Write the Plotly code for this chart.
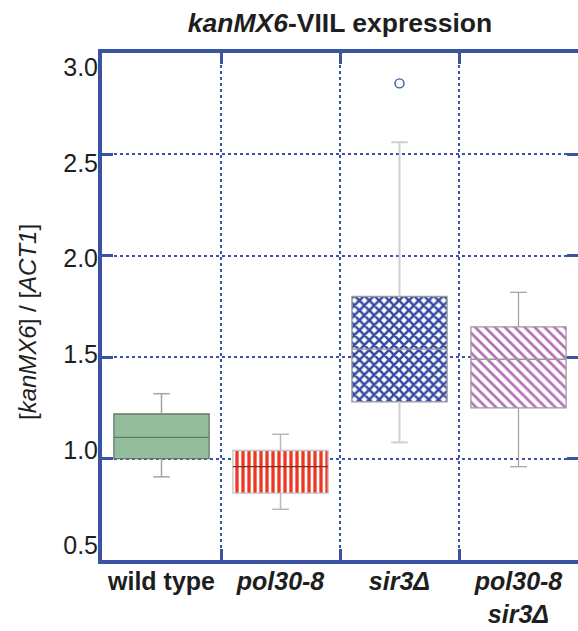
import plotly.graph_objects as go

# ---- data ----
groups = ["wild type", "pol30-8", "sir3Δ", "pol30-8 sir3Δ"]
group_labels = ["<b>wild type</b>", "<b><i>pol30-8</i></b>", "<b><i>sir3Δ</i></b>",
                "<b><i>pol30-8</i></b><br><b><i>sir3Δ</i></b>"]
q1 = [1.00, 0.83, 1.28, 1.25]
median = [1.105, 0.96, 1.54, 1.49]
q3 = [1.22, 1.04, 1.80, 1.65]
whisker_low = [0.91, 0.75, 1.08, 0.96]
whisker_high = [1.32, 1.12, 2.56, 1.82]
outlier_group = [2]
outlier_value = [2.85]
y_ticks = [0.5, 1.0, 1.5, 2.0, 2.5, 3.0]
y_tick_text = ["0.5", "1.0", "1.5", "2.0", "2.5", "3.0"]

# ---- styles ----
AX = "#3b53a3"
FONT = "Liberation Sans, Arial, sans-serif"
box_fill = ["#93bd9b", "white", "white", "white"]
pat_shape = ["", "|", "x", "\\"]
pat_fg = ["#93bd9b", "#ef3622", "#3449a2", "#b370b5"]
pat_size = [8, 6, 7, 7]
pat_solid = [0.3, 0.55, 0.6, 0.38]
box_line = ["#66776a", "#c4c4c4", "#9a9a9a", "#9a9a9a"]
median_color = ["#66776a", "#7a3028", "#9a9a9a", "#9a9a9a"]
whisker_color = ["#a3a3a3", "#b8b8b8", "#cfcfcf", "#9f9f9f"]
whisker_width = [1.5, 1.5, 2, 1.2]
BOX_W = 0.8
CAP_H = 0.07

fig = go.Figure()
centers = [i + 0.5 for i in range(len(groups))]

for i, c in enumerate(centers):
    fig.add_trace(go.Bar(
        x=[c], base=[q1[i]], y=[q3[i] - q1[i]], width=BOX_W,
        marker=dict(color=box_fill[i],
                    line=dict(color=box_line[i], width=1.3),
                    pattern=dict(shape=pat_shape[i], fgcolor=pat_fg[i], bgcolor=box_fill[i],
                                 size=pat_size[i], solidity=pat_solid[i], fillmode="replace")),
        showlegend=False, hoverinfo="skip"))

for i, c in enumerate(centers):
    wx = [c, c, None, c, c, None, c - CAP_H, c + CAP_H, None, c - CAP_H, c + CAP_H]
    wy = [q3[i], whisker_high[i], None, q1[i], whisker_low[i], None,
          whisker_high[i], whisker_high[i], None, whisker_low[i], whisker_low[i]]
    fig.add_trace(go.Scatter(x=wx, y=wy, mode="lines",
                             line=dict(color=whisker_color[i], width=whisker_width[i]),
                             showlegend=False, hoverinfo="skip"))
    fig.add_trace(go.Scatter(x=[c - BOX_W / 2, c + BOX_W / 2], y=[median[i], median[i]],
                             mode="lines", line=dict(color=median_color[i], width=1.3),
                             showlegend=False, hoverinfo="skip"))

fig.add_trace(go.Scatter(x=[centers[g] for g in outlier_group], y=outlier_value, mode="markers",
                         marker=dict(symbol="circle-open", size=9, color="#3a55b0",
                                     line=dict(width=1.4)),
                         showlegend=False, hoverinfo="skip"))

# dummy trace for label axes
fig.add_trace(go.Scatter(x=[None], y=[None], xaxis="x2", yaxis="y2",
                         showlegend=False, hoverinfo="skip"))

# label axis range: labels are evenly spaced slightly inside the frame in the reference
lab_lo, lab_hi = 0.424, 3.074

fig.update_layout(
    width=578, height=631, autosize=False,
    margin=dict(l=102, r=0, t=53, b=71, pad=0, autoexpand=False),
    paper_bgcolor="white", plot_bgcolor="white",
    barmode="overlay",
    font=dict(family=FONT, color="#1e1e1e"),
    title=dict(text="<b><i>kanMX6</i>-VIIL expression</b>", x=0.5, xref="paper",
               xanchor="center", y=1 - 23 / 631, yref="container", yanchor="middle",
               font=dict(size=26.5, family=FONT, color="#1e1e1e")),
    xaxis=dict(range=[0, 4], tickvals=[1, 2, 3], showticklabels=False,
               ticks="inside", ticklen=11, tickwidth=3, tickcolor=AX,
               showline=True, linecolor=AX, linewidth=3.5, mirror="ticks",
               showgrid=True, gridcolor=AX, gridwidth=2, griddash="dot",
               zeroline=False, automargin=False),
    xaxis2=dict(range=[0, 4], overlaying="x", side="bottom",
                tickvals=centers, ticktext=group_labels, ticklabelstandoff=4,
                tickfont=dict(size=25, family=FONT, color="#1e1e1e"),
                ticks="", showgrid=False, showline=False, zeroline=False, automargin=False),
    yaxis=dict(range=[0.5, 3.0], tickvals=y_ticks, showticklabels=False,
               ticks="inside", ticklen=11, tickwidth=3, tickcolor=AX,
               showline=True, linecolor=AX, linewidth=3.5, mirror="ticks",
               showgrid=True, gridcolor=AX, gridwidth=2, griddash="dot",
               zeroline=False, automargin=False),
    yaxis2=dict(range=[lab_lo, lab_hi], overlaying="y", side="left",
                tickvals=y_ticks, ticktext=y_tick_text, ticklabelstandoff=3,
                tickfont=dict(size=25, family=FONT, color="#1e1e1e"),
                ticks="", showgrid=False, showline=False, zeroline=False, automargin=False),
    annotations=[dict(text="[<i>kanMX6</i>] / [<i>ACT1</i>]", textangle=-90,
                      xref="paper", yref="paper", x=-(102 - 27) / 476, y=(560 - 322) / 507,
                      xanchor="center", yanchor="middle", showarrow=False,
                      font=dict(size=24, family=FONT, color="#1e1e1e"))],
)

fig.write_html("out.html")
